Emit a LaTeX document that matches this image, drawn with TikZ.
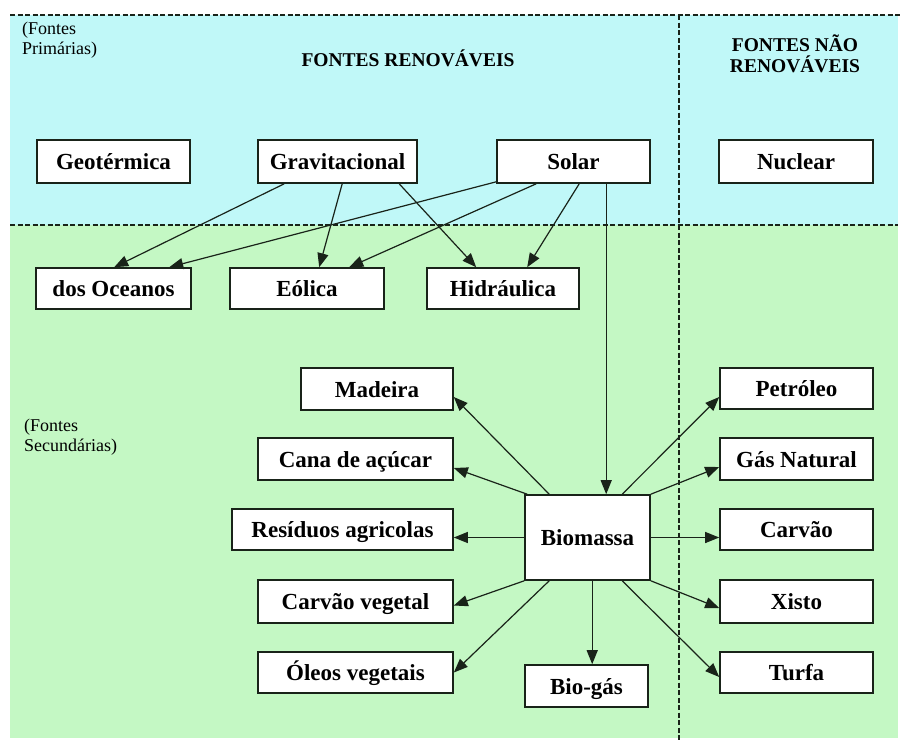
\documentclass[tikz,border=0pt]{standalone}
\usepackage{fontspec}
\setmainfont{Liberation Serif}
\usetikzlibrary{arrows.meta,calc}
\definecolor{topcyan}{RGB}{192,248,248}
\definecolor{botgreen}{RGB}{196,248,196}
\definecolor{inkc}{RGB}{25,35,25}
\tikzset{
  box/.style={draw=inkc, line width=1.6pt, fill=white, inner sep=0pt,
    font=\bfseries\fontsize{23}{27}\selectfont, text=black,
    text height=16pt, text depth=0pt},
  head/.style={font=\bfseries\fontsize{19.5}{21.5}\selectfont, align=center, inner sep=0pt},
  small/.style={font=\fontsize{18}{20}\selectfont, align=left, inner sep=0pt},
  divider/.style={draw=inkc, line width=1.3pt, dash pattern=on 5pt off 2.5pt},
  arr/.style={draw=inkc, line width=1.2pt, -{Triangle[length=14pt,width=11pt]}}
}
\begin{document}
\begin{tikzpicture}[x=1pt,y=-1pt]
\useasboundingbox (0,0) rectangle (901,742);
% backgrounds
\fill[topcyan] (10,15) rectangle (898,225);
\fill[botgreen] (10,225) rectangle (898,738);
% dividers
\coordinate (tl) at (10,15);
\coordinate (tr) at (901,15);
\coordinate (ml) at (10,225);
\coordinate (mr) at (898,225);
\coordinate (vt) at (679,15);
\coordinate (vb) at (679,742);
\draw[divider] (tl) -- (tr);
\draw[divider] (ml) -- (mr);
\draw[divider] (vt) -- (vb);
% headings
\node[small, anchor=west] (prim) at (22,40) {(Fontes\\Primárias)};
\node[small, anchor=west] (sec) at (24,437) {(Fontes\\Secundárias)};
\node[head] (ren) at (408,58) {FONTES RENOVÁVEIS};
\node[head] (nren) at (795,54) {FONTES NÃO\\RENOVÁVEIS};
% primary
\node[box, minimum width=153pt, minimum height=43pt] (geo) at (113.5,161.5) {Geotérmica};
\node[box, minimum width=159pt, minimum height=43pt] (grav) at (337.5,161.5) {Gravitacional};
\node[box, minimum width=153pt, minimum height=43pt] (solar) at (573.5,161.5) {Solar};
\node[box, minimum width=154pt, minimum height=43pt] (nuc) at (796,161.5) {Nuclear};
% secondary row
\node[box, minimum width=155pt, minimum height=41pt] (oce) at (113.5,288.5) {dos Oceanos};
\node[box, minimum width=154pt, minimum height=41pt] (eol) at (307,288.5) {Eólica};
\node[box, minimum width=152pt, minimum height=41pt] (hid) at (503,288.5) {Hidráulica};
% biomass derivatives
\node[box, minimum width=152pt, minimum height=42pt] (mad) at (377,389) {Madeira};
\node[box, minimum width=195pt, minimum height=42pt] (cana) at (355.5,459) {Cana de açúcar};
\node[box, minimum width=221pt, minimum height=41pt] (res) at (342.5,529.5) {Resíduos agricolas};
\node[box, minimum width=195pt, minimum height=43pt] (cveg) at (355.5,601.5) {Carvão vegetal};
\node[box, minimum width=195pt, minimum height=41pt] (oleo) at (355.5,672.5) {Óleos vegetais};
\node[box, minimum width=125pt, minimum height=85pt] (bio) at (587.5,537.5) {Biomassa};
\node[box, minimum width=123pt, minimum height=42pt] (bgas) at (586.5,686) {Bio-gás};
% fossil
\node[box, minimum width=153pt, minimum height=41pt] (pet) at (796.5,388.5) {Petróleo};
\node[box, minimum width=153pt, minimum height=42pt] (gas) at (796.5,459) {Gás Natural};
\node[box, minimum width=153pt, minimum height=41pt] (carv) at (796.5,529.5) {Carvão};
\node[box, minimum width=153pt, minimum height=43pt] (xis) at (796.5,601.5) {Xisto};
\node[box, minimum width=153pt, minimum height=41pt] (turf) at (796.5,672.5) {Turfa};
% arrows from primary
\draw[arr] ([xshift=27pt]grav.south west) -- ([xshift=79pt]oce.north west);
\draw[arr] ([xshift=85pt]grav.south west) -- ([xshift=90pt]eol.north west);
\draw[arr] ([xshift=142pt]grav.south west) -- ([xshift=50pt]hid.north west);
\draw[arr] ([yshift=2pt]solar.south west) -- ([xshift=134pt]oce.north west);
\draw[arr] ([xshift=40pt]solar.south west) -- ([xshift=120pt]eol.north west);
\draw[arr] ([xshift=83pt]solar.south west) -- ([xshift=101pt]hid.north west);
\draw[arr] ([xshift=110pt]solar.south west) -- ([xshift=82pt]bio.north west);
% arrows from biomass, left
\draw[arr] ([xshift=25pt]bio.north west) -- ([yshift=-8pt]mad.east);
\draw[arr] ([xshift=3pt]bio.north west) -- ([yshift=-9pt]cana.east);
\draw[arr] (bio.west) -- (bio.west -| res.east);
\draw[arr] (bio.south west) -- ([yshift=-4pt]cveg.east);
\draw[arr] ([xshift=25pt]bio.south west) -- (oleo.east);
\draw[arr] ([xshift=68pt]bio.south west) -- ([xshift=68pt]bio.south west |- bgas.north);
% arrows from biomass, right
\draw[arr] ([xshift=98pt]bio.north west) -- ([yshift=-8.5pt]pet.west);
\draw[arr] (bio.north east) -- ([yshift=-8pt]gas.west);
\draw[arr] (bio.east) -- (bio.east -| carv.west);
\draw[arr] (bio.south east) -- ([yshift=-6.5pt]xis.west);
\draw[arr] ([xshift=98pt]bio.south west) -- ([yshift=-4.5pt]turf.west);
\end{tikzpicture}
\end{document}
